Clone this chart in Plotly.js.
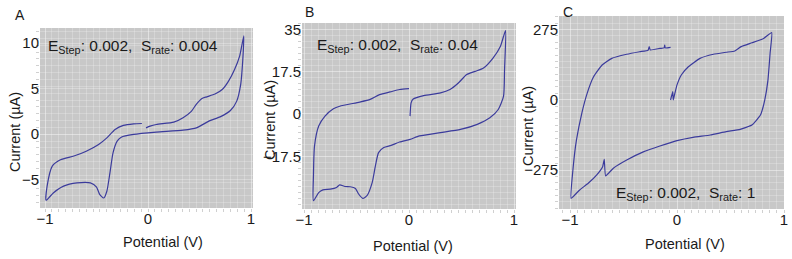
<!DOCTYPE html>
<html>
<head>
<meta charset="utf-8">
<script src="https://cdn.plot.ly/plotly-3.0.1.min.js"></script>
<style>html,body{margin:0;padding:0;background:#fff;}#chart{width:792px;height:259px;}</style>
</head>
<body>
<div id="chart"></div>
<script>
// Panel A: E_step 0.002, scan rate 0.004
const potA = [-0.02,0.02,0.08,0.25,0.34,0.42,0.47,0.52,0.57,0.65,0.72,0.78,0.84,0.89,0.93,
  0.92,0.90,0.86,0.80,0.70,0.59,0.47,0.34,0.08,-0.14,-0.26,-0.30,-0.34,-0.37,-0.40,-0.43,-0.47,-0.50,-0.56,-0.69,-0.82,-0.92,-0.99,
  -0.98,-0.93,-0.85,-0.72,-0.60,-0.48,-0.40,-0.32,-0.24,-0.14,-0.06];
const curA = [0.69,0.88,1.06,1.32,1.8,2.5,3.3,3.9,4.1,4.4,4.9,5.8,7.1,8.6,10.8,
  8.2,5.5,3.6,2.6,1.9,1.43,0.69,0.44,0.22,-0.03,-0.33,-0.77,-2.05,-4.25,-6.26,-7.0,-6.6,-5.8,-5.35,-5.35,-5.7,-6.45,-7.25,
  -5.7,-3.5,-2.8,-2.4,-1.87,-1.13,-0.4,0.52,0.96,1.13,1.17];

// Panel B: E_step 0.002, scan rate 0.04
const potB = [0.01,0.02,0.04,0.14,0.30,0.39,0.47,0.55,0.63,0.71,0.80,0.87,0.90,0.92,
  0.91,0.90,0.85,0.77,0.65,0.49,0.30,0.10,0.01,-0.09,-0.17,-0.24,-0.29,-0.32,-0.35,-0.40,-0.44,-0.48,-0.51,-0.56,-0.61,-0.66,-0.69,-0.75,-0.82,-0.86,-0.91,
  -0.91,-0.90,-0.86,-0.80,-0.72,-0.66,-0.47,-0.37,-0.28,-0.18,-0.09,0.0];
const curB = [-0.9,4.6,6.2,7.6,8.7,10.1,12.8,16.3,17.6,19.0,23.1,27.9,32,34.5,
  18.3,7.3,1.85,-1.6,-4.3,-6.4,-7.7,-9.1,-10.5,-11.6,-13.0,-13.9,-16.0,-21.5,-28.3,-33.8,-34.9,-33.1,-30.8,-30.1,-30.0,-29.3,-30.4,-31.1,-31.4,-32.5,-35.9,
  -25.6,-13.3,-5.0,-0.9,2.1,3.2,4.9,6.0,8.0,9.1,10.1,10.5];

// Panel C: E_step 0.002, scan rate 1
const potC = [-0.06,-0.04,-0.035,-0.02,0.0,0.04,0.106,0.215,0.34,0.46,0.54,0.60,0.70,0.81,0.885,
  0.87,0.85,0.82,0.78,0.70,0.59,0.46,0.31,0.15,0.0,-0.16,-0.31,-0.47,-0.595,-0.667,-0.68,-0.695,-0.75,-0.83,-0.91,-0.99,
  -0.97,-0.94,-0.89,-0.84,-0.78,-0.70,-0.61,-0.47,-0.35,-0.27,-0.26,-0.25,-0.16,-0.12,-0.115,-0.11,-0.06];
const curC = [-1,32,-1,25,58,97,129,162,178,186,191,208,223,240,263,
  182,77,-1,-60,-99,-116,-125,-138,-147,-160,-181,-203,-236,-268,-298,-233,-262,-294,-327,-353,-386,
  -262,-158,-53,25,90,136,162,178,188,194,208,195,201,203,214,203,205];

const xTickVals = [-1, 0, 1];
const xTickText = ['\u22121', '0', '1'];
const yTickValsA = [-5, 0, 5, 10];
const yTickTextA = ['\u22125', '0', '5', '10'];
const yTickValsB = [-17.5, 0, 17.5, 35];
const yTickTextB = ['\u221217.5', '0', '17.5', '35'];
const yTickValsC = [-275, 0, 275];
const yTickTextC = ['\u2212275', '0', '275'];

const panelLetters = ['A', 'B', 'C'];
const rateLabels = ['0.004', '0.04', '1'];
const stepLabel = '0.002';

const W = 792, H = 259;
const px = v => v / W;
const py = v => 1 - v / H;

const lineStyle = {color: '#3b3b9c', width: 1.2, shape: 'spline', smoothing: 0.6};

const traces = [
  {x: potA, y: curA, xaxis: 'x', yaxis: 'y', mode: 'lines', line: lineStyle, hoverinfo: 'skip'},
  {x: potB, y: curB, xaxis: 'x2', yaxis: 'y2', mode: 'lines', line: lineStyle, hoverinfo: 'skip'},
  {x: potC, y: curC, xaxis: 'x3', yaxis: 'y3', mode: 'lines', line: Object.assign({}, lineStyle, {smoothing: 0.4}), hoverinfo: 'skip'}
];

const font = {family: 'Liberation Sans, Arial, sans-serif', color: '#1a1a1a'};
const tickFont = {family: font.family, size: 15, color: '#1a1a1a'};

function xAxis(dom, range, minorDt) {
  return {domain: dom, range: range, tickvals: xTickVals, ticktext: xTickText, tickfont: tickFont,
    showgrid: true, gridcolor: 'rgba(255,255,255,0.28)', gridwidth: 1, zeroline: false, showline: false,
    ticks: '',
    minor: {dtick: minorDt, showgrid: true, gridcolor: 'rgba(255,255,255,0.22)', ticks: 'outside', ticklen: 3, tickcolor: '#d0d0d0'}};
}
function yAxis(dom, range, vals, text, anchor, minorDt) {
  return {domain: dom, range: range, tickvals: vals, ticktext: text, tickfont: tickFont, anchor: anchor,
    showgrid: true, gridcolor: 'rgba(255,255,255,0.28)', zeroline: false, showline: false,
    ticks: '',
    minor: {dtick: minorDt, showgrid: true, gridcolor: 'rgba(255,255,255,0.22)', ticks: 'outside', ticklen: 3, tickcolor: '#d0d0d0'}};
}

const annotations = [];
const letterPos = [[20, 15], [309, 12], [568, 12]];
panelLetters.forEach((t, i) => annotations.push({text: t, x: px(letterPos[i][0]), y: py(letterPos[i][1]), xref: 'paper', yref: 'paper',
  showarrow: false, xanchor: 'center', yanchor: 'middle', font: Object.assign({}, font, {size: 14})}));

const ytPos = [[15, 132], [270, 120], [528, 126]];
ytPos.forEach(p => annotations.push({text: 'Current (\u00b5A)', x: px(p[0]), y: py(p[1]), xref: 'paper', yref: 'paper',
  showarrow: false, textangle: -90, xanchor: 'center', yanchor: 'middle', font: Object.assign({}, font, {size: 14.5})}));

const xtPos = [[163, 242], [413, 246], [685, 244]];
xtPos.forEach(p => annotations.push({text: 'Potential (V)', x: px(p[0]), y: py(p[1]), xref: 'paper', yref: 'paper',
  showarrow: false, xanchor: 'center', yanchor: 'middle', font: Object.assign({}, font, {size: 14.5})}));

const statPos = [[46, 47], [315, 46], [614, 193]];
statPos.forEach((p, i) => annotations.push({
  text: 'E<sub>Step</sub>: ' + stepLabel + ',&nbsp; S<sub>rate</sub>: ' + rateLabels[i],
  x: px(p[0]), y: py(p[1]), xref: 'paper', yref: 'paper', showarrow: false, xanchor: 'left', yanchor: 'middle',
  font: Object.assign({}, font, {size: 15.5})}));

const layout = {
  width: W, height: H, margin: {l: 0, r: 0, t: 0, b: 0},
  paper_bgcolor: '#ffffff', plot_bgcolor: '#c8c8c8', showlegend: false,
  font: font,
  xaxis: xAxis([px(40), px(253)], [-1.049, 1.019], 1/15),
  yaxis: yAxis([py(208), py(28)], [-8.1, 11.65], yTickValsA, yTickTextA, 'x', 0.75),
  xaxis2: Object.assign(xAxis([px(302), px(516)], [-1.019, 1.019], 1/15), {anchor: 'y2'}),
  yaxis2: yAxis([py(209), py(23)], [-39.3, 37.6], yTickValsB, yTickTextB, 'x2', 2.5),
  xaxis3: Object.assign(xAxis([px(559), px(784)], [-1.103, 1.0], 1/15), {anchor: 'y3'}),
  yaxis3: yAxis([py(209), py(16)], [-427.6, 327.8], yTickValsC, yTickTextC, 'x3', 25),
  annotations: annotations
};
layout.xaxis.anchor = 'y';

Plotly.newPlot('chart', traces, layout, {staticPlot: true, displayModeBar: false});
</script>
</body>
</html>
